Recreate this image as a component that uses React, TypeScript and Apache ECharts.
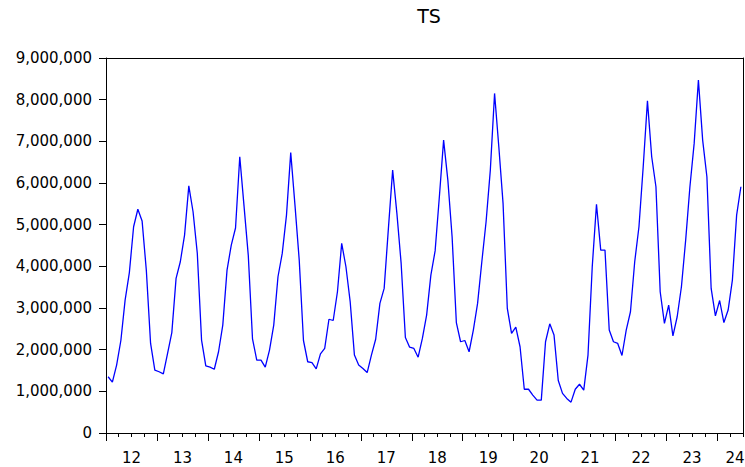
import React, { useEffect, useRef } from "react";
import * as echarts from "echarts";

const title = "TS";
const startYear = 2012;
const yearLabels = ["12", "13", "14", "15", "16", "17", "18", "19", "20", "21", "22", "23", "24"];

const y2012 = [1350000, 1220000, 1630000, 2220000, 3190000, 3850000, 4950000, 5370000, 5090000, 3900000, 2150000, 1510000];
const y2013 = [1470000, 1420000, 1910000, 2410000, 3710000, 4110000, 4750000, 5930000, 5310000, 4310000, 2230000, 1610000];
const y2014 = [1580000, 1530000, 1950000, 2590000, 3910000, 4510000, 4920000, 6630000, 5450000, 4270000, 2260000, 1750000];
const y2015 = [1750000, 1580000, 1990000, 2590000, 3750000, 4310000, 5230000, 6730000, 5470000, 4150000, 2220000, 1710000];
const y2016 = [1690000, 1540000, 1900000, 2030000, 2730000, 2700000, 3390000, 4550000, 3990000, 3150000, 1870000, 1630000];
const y2017 = [1550000, 1450000, 1870000, 2250000, 3110000, 3470000, 4910000, 6310000, 5270000, 4070000, 2290000, 2060000];
const y2018 = [2030000, 1820000, 2270000, 2830000, 3790000, 4370000, 5670000, 7030000, 6070000, 4710000, 2650000, 2190000];
const y2019 = [2220000, 1950000, 2470000, 3110000, 4110000, 5070000, 6310000, 8150000, 6870000, 5510000, 2990000, 2390000];
const y2020 = [2540000, 2070000, 1050000, 1050000, 910000, 790000, 790000, 2190000, 2620000, 2350000, 1260000, 950000];
const y2021 = [830000, 740000, 1050000, 1170000, 1030000, 1870000, 3990000, 5490000, 4390000, 4390000, 2470000, 2190000];
const y2022 = [2150000, 1860000, 2470000, 2910000, 4110000, 4950000, 6390000, 7970000, 6630000, 5910000, 3390000, 2630000];
const y2023 = [3070000, 2330000, 2790000, 3510000, 4630000, 5910000, 6950000, 8470000, 7030000, 6150000, 3470000, 2810000];
const y2024 = [3180000, 2650000, 2950000, 3670000, 5230000, 5910000];

const yTicks = [0, 1000000, 2000000, 3000000, 4000000, 5000000, 6000000, 7000000, 8000000, 9000000];

export default function App() {
  const ref = useRef<HTMLDivElement>(null);

  useEffect(() => {
    if (!ref.current) return;
    const chart = echarts.init(ref.current, null, { renderer: "svg" });
    const values = [
      ...y2012, ...y2013, ...y2014, ...y2015, ...y2016, ...y2017, ...y2018,
      ...y2019, ...y2020, ...y2021, ...y2022, ...y2023, ...y2024,
    ];
    const n = values.length;
    const data = values.map((v, i) => [i + 0.5, v]);
    const majorTicks = yearLabels.map((_, i) => i * 12).filter((v) => v < n);
    const labelPos = yearLabels.map((_, i) => Math.min(i * 12 + 6, n));
    const font = "DejaVu Sans";
    const black = { color: "#000", width: 1 };

    chart.setOption({
      animation: false,
      backgroundColor: "#fff",
      title: {
        text: title,
        left: 424,
        textAlign: "center",
        top: 1,
        textStyle: { fontFamily: font, fontSize: 19, fontWeight: "normal", color: "#000" },
      },
      grid: {
        left: 106,
        right: 2,
        top: 58,
        bottom: 34,
        containLabel: false,
        outerBoundsMode: "none",
        show: false,
      },
      xAxis: [
        {
          type: "value",
          min: 0,
          max: n,
          interval: 12,
          position: "bottom",
          axisLine: { show: true, onZero: false, lineStyle: black },
          axisTick: { show: true, length: 8, lineStyle: { color: "#000" }, customValues: majorTicks },
          splitLine: { show: false },
          axisLabel: {
            show: true,
            customValues: labelPos,
            margin: 17,
            fontFamily: font,
            fontSize: 15,
            color: "#000",
            formatter: (v: number) => {
              const idx = labelPos.indexOf(v);
              if (idx < 0) return "";
              const t = yearLabels[idx];
              return v >= n ? "{r|" + t + "}" : t;
            },
            rich: {
              r: { fontFamily: font, fontSize: 15, color: "#000", padding: [0, 16, 0, 0] },
            },
          },
        },
        {
          type: "value",
          min: 0,
          max: n,
          interval: 3,
          position: "bottom",
          axisLine: { show: false, onZero: false },
          axisTick: { show: true, length: 4, lineStyle: { color: "#000" } },
          splitLine: { show: false },
          axisLabel: { show: false },
        },
        {
          type: "value",
          min: 0,
          max: n,
          interval: 12,
          position: "top",
          axisLine: { show: true, onZero: false, lineStyle: black },
          axisTick: { show: false },
          splitLine: { show: false },
          axisLabel: { show: false },
        },
      ],
      yAxis: [
        {
          type: "value",
          min: yTicks[0],
          max: yTicks[yTicks.length - 1],
          interval: 1000000,
          position: "left",
          axisLine: { show: true, onZero: false, lineStyle: black },
          axisTick: { show: true, length: 7, lineStyle: { color: "#000" } },
          splitLine: { show: false },
          axisLabel: {
            margin: 14,
            fontFamily: font,
            fontSize: 15,
            color: "#000",
            formatter: (v: number) => v.toLocaleString("en-US"),
          },
        },
        {
          type: "value",
          min: yTicks[0],
          max: yTicks[yTicks.length - 1],
          interval: 1000000,
          position: "right",
          axisLine: { show: true, onZero: false, lineStyle: black },
          axisTick: { show: false },
          splitLine: { show: false },
          axisLabel: { show: false },
        },
      ],
      series: [
        {
          name: "TS " + startYear,
          type: "line",
          xAxisIndex: 0,
          yAxisIndex: 0,
          data,
          symbol: "none",
          lineStyle: { color: "#0000ff", width: 1.3 },
        },
      ],
    });
    return () => chart.dispose();
  }, []);

  return (
    <div
      ref={ref}
      style={{ position: "fixed", left: 0, top: 0, width: 745, height: 467 }}
    />
  );
}
